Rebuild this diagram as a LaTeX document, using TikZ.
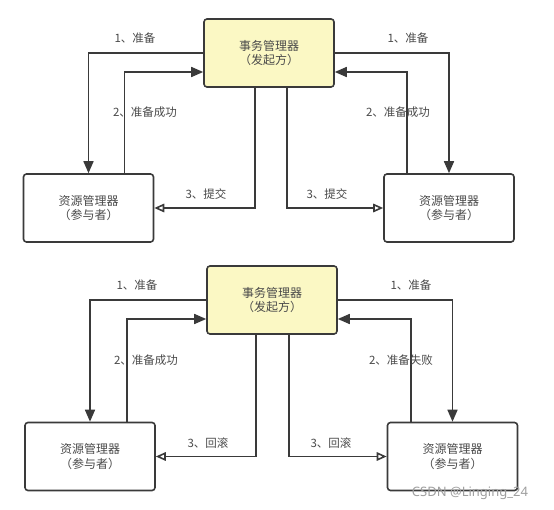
\documentclass[tikz,border=0pt]{standalone}
\usepackage{fontspec}
\setmainfont{Noto Sans CJK SC}
\newfontfamily\wmfont{Noto Sans}
\usetikzlibrary{arrows.meta}
\definecolor{linec}{HTML}{3A3A3A}
\definecolor{txtc}{HTML}{4A4A4A}
\definecolor{tmfill}{HTML}{FBF8C4}
\begin{document}
\begin{tikzpicture}[x=1pt,y=-1pt,
  box/.style={draw=linec, line width=1.6pt, rounded corners=3pt, minimum width=130pt, minimum height=68pt, align=center, font=\fontsize{12}{14.5}\selectfont, text=txtc, inner sep=0pt},
  tmbox/.style={box, fill=tmfill},
  lbl/.style={font=\fontsize{11.5}{14}\selectfont, text=txtc, inner sep=1pt},
  fa/.style={draw=linec, line width=1.6pt, -{Triangle[length=12pt,width=10pt]}},
  oa/.style={draw=linec, line width=1.6pt, -{Triangle[open,length=10pt,width=8.5pt]}}]
\useasboundingbox (0,0) rectangle (554,510);
\fill[white] (0,0) rectangle (554,510);
% ---------- top diagram ----------
\node[tmbox] (tm1) at (269,53) {事务管理器\\（发起方）};
\node[box] (rm1) at (88.5,208) {资源管理器\\（参与者）};
\node[box] (rm2) at (449,208) {资源管理器\\（参与者）};
\draw[fa] (tm1.west) -| (rm1.north);
\draw[fa] ([xshift=36pt]rm1.north) |- ([yshift=-19pt]tm1.west);
\draw[oa] ([xshift=-14pt]tm1.south) |- (rm1.east);
\draw[fa] (tm1.east) -| (rm2.north);
\draw[fa] ([xshift=-42pt]rm2.north) |- ([yshift=-19pt]tm1.east);
\draw[oa] ([xshift=18pt]tm1.south) |- (rm2.west);
\node[lbl] (l1) at (135,38) {1、准备};
\node[lbl] (l2) at (145,112) {2、准备成功};
\node[lbl] (l3) at (206,194) {3、提交};
\node[lbl] (l4) at (408,38) {1、准备};
\node[lbl] (l5) at (398,112) {2、准备成功};
\node[lbl] (l6) at (327,194) {3、提交};
% ---------- bottom diagram ----------
\node[tmbox] (tm2) at (272,300) {事务管理器\\（发起方）};
\node[box] (rm3) at (90,456.5) {资源管理器\\（参与者）};
\node[box] (rm4) at (452.5,456.5) {资源管理器\\（参与者）};
\draw[fa] (tm2.west) -| (rm3.north);
\draw[fa] ([xshift=37pt]rm3.north) |- ([yshift=-19pt]tm2.west);
\draw[oa] ([xshift=-16pt]tm2.south) |- (rm3.east);
\draw[fa] (tm2.east) -| (rm4.north);
\draw[fa] ([xshift=-41.5pt]rm4.north) |- ([yshift=-19pt]tm2.east);
\draw[oa] ([xshift=17pt]tm2.south) |- (rm4.west);
\node[lbl] (m1) at (137,285) {1、准备};
\node[lbl] (m2) at (146,360) {2、准备成功};
\node[lbl] (m3) at (208,443) {3、回滚};
\node[lbl] (m4) at (411,285) {1、准备};
\node[lbl] (m5) at (401,360) {2、准备失败};
\node[lbl] (m6) at (331,443) {3、回滚};
\node[font=\wmfont\fontsize{13}{15}\selectfont, text=gray!75, inner sep=0pt] (wm) at (470,493) {CSDN @Linging\_24};
\end{tikzpicture}
\end{document}
